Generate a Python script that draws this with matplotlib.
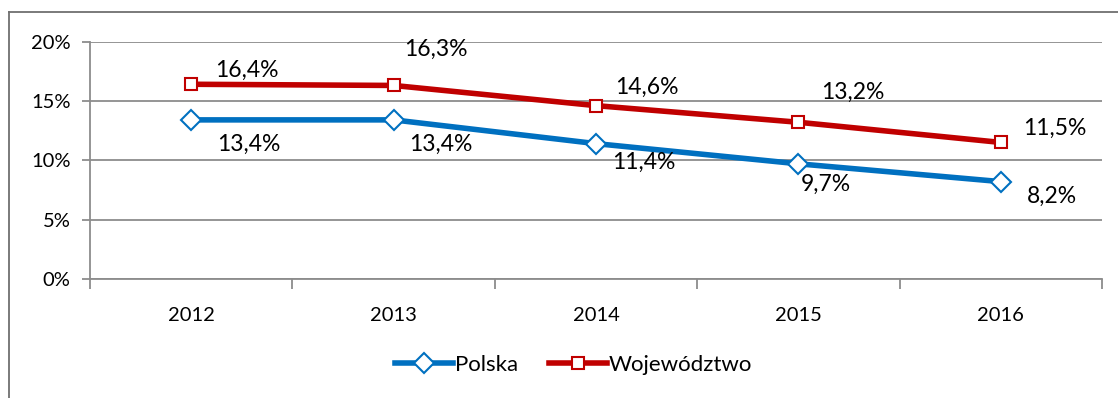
import matplotlib.pyplot as plt
import numpy as np
from matplotlib.lines import Line2D
from matplotlib.ticker import FixedLocator

plt.rcParams['font.family'] = ['Lato', 'DejaVu Sans']

years = ['2012', '2013', '2014', '2015', '2016']
polska = [13.4, 13.4, 11.4, 9.7, 8.2]
wojewodztwo = [16.4, 16.3, 14.6, 13.2, 11.5]

# label offsets in pixels (dx, dy)
woj_off = [(56, 14), (42, 36), (51, 18), (54, 30), (54, 14)]
pol_off = [(58, -24), (47, -24), (48, -19), (27, -21), (51, -15)]

blue = '#0070C0'
red = '#C00000'
grid = '#8c8c8c'

fig = plt.figure(figsize=(11.18, 3.98), dpi=100)
ax = fig.add_axes([0.0805, 0.299, 0.9052, 0.5967])

x = np.arange(len(years))
ax.plot(x, polska, color=blue, lw=4, marker='D', ms=10, mfc='white',
        mec=blue, mew=1.5, zorder=3, label='Polska')
ax.plot(x, wojewodztwo, color=red, lw=4, marker='s', ms=8, mfc='white',
        mec=red, mew=1.5, zorder=3, label='Województwo')

def fmt(v):
    return f'{v:.1f}%'.replace('.', ',')

for xi, v, off in zip(x, wojewodztwo, woj_off):
    ax.annotate(fmt(v), (xi, v), xytext=off, textcoords='offset pixels',
                ha='center', va='center', fontsize=16.5)
for xi, v, off in zip(x, polska, pol_off):
    ax.annotate(fmt(v), (xi, v), xytext=off, textcoords='offset pixels',
                ha='center', va='center', fontsize=16.5)

ax.set_xlim(-0.5, len(years) - 0.5)
ax.set_ylim(0, 20)
ax.set_yticks([0, 5, 10, 15, 20])
ax.set_yticklabels(['0%', '5%', '10%', '15%', '20%'], fontsize=14.5)
ax.yaxis.grid(True, color=grid, lw=1.3)
ax.set_axisbelow(True)

ax.set_xticks(x)
ax.set_xticklabels(years, fontsize=14.5)
ax.xaxis.set_minor_locator(FixedLocator(np.arange(-0.5, len(years), 1)))
ax.tick_params(axis='x', which='major', length=0, pad=20)
ax.tick_params(axis='x', which='minor', length=7, color=grid, width=1.3)
ax.tick_params(axis='y', length=6, color=grid, width=1.3, pad=8)

for s in ['top', 'right']:
    ax.spines[s].set_visible(False)
for s in ['left', 'bottom']:
    ax.spines[s].set_color(grid)
    ax.spines[s].set_linewidth(1.3)

handles = [
    Line2D([], [], color=blue, lw=4, marker='D', ms=10, mfc='white', mec=blue, mew=1.5),
    Line2D([], [], color=red, lw=4, marker='s', ms=8, mfc='white', mec=red, mew=1.5),
]
fig.legend(handles, ['Polska', 'Województwo'], loc='center', bbox_to_anchor=(0.513, 0.083),
           ncol=2, frameon=False, fontsize=16, handlelength=2.6, handletextpad=0.1,
           columnspacing=1.4)

# outer chart border (left and top edges)
fig.add_artist(Line2D([9 / 1118, 9 / 1118], [0, 1 - 12 / 398], transform=fig.transFigure,
                      color='#707070', lw=1.3))
fig.add_artist(Line2D([9 / 1118, 1], [1 - 12 / 398, 1 - 12 / 398], transform=fig.transFigure,
                      color='#707070', lw=1.3))

fig.savefig('out.png', dpi=100)
